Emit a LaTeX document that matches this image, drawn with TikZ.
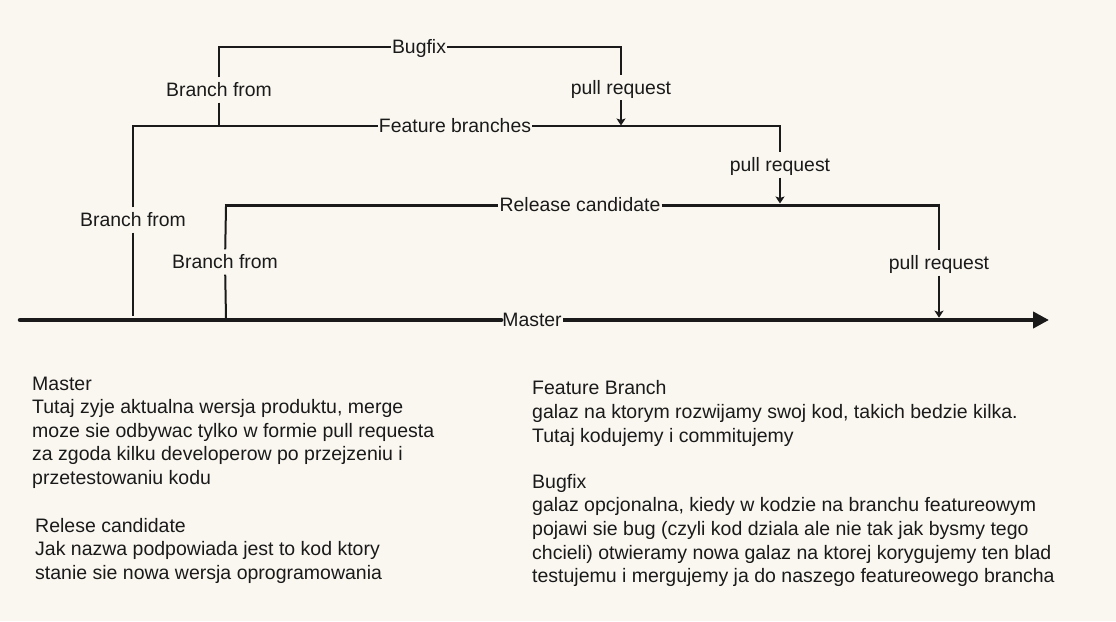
\documentclass[tikz,border=0pt]{standalone}
\usepackage{fontspec}
\setmainfont{Liberation Sans}
\usetikzlibrary{arrows.meta}
\definecolor{bg}{HTML}{FAF7F0}
\definecolor{ink}{HTML}{1A1A1A}
\begin{document}
\begin{tikzpicture}[x=1pt,y=-1pt,
  lbl/.style={font=\fontsize{19.4}{23.6}\selectfont, text=ink, inner xsep=1pt, inner ysep=3.5pt, text height=15.5pt, text depth=2.5pt},
  para/.style={font=\fontsize{19.5}{23.6}\selectfont, text=ink, inner sep=0pt, anchor=north west, align=left},
  thinline/.style={draw=ink, line width=1.3pt},
  midline/.style={draw=ink, line width=2pt},
  rcline/.style={draw=ink, line width=3pt},
  masterline/.style={draw=ink, line width=4.5pt},
  pr/.style={-{Stealth[length=7pt,width=9pt,inset=1.5pt]}},
]
\fill[bg] (0,0) rectangle (1116,621);
\useasboundingbox (0,0) rectangle (1116,621);

% labels
\node[lbl] (mlabel) at (532,320) {Master};
\node[lbl] (fblabel) at (455,126) {Feature branches};
\node[lbl] (rclabel) at (580,205) {Release candidate};
\node[lbl] (buglabel) at (419,47) {Bugfix};
\node[lbl] (bfbug) at (219,90) {Branch from};
\node[lbl] (bffeat) at (133,220) {Branch from};
\node[lbl] (bfrc) at (225,262) {Branch from};
\node[lbl] (prbug) at (621,87.5) {pull request};
\node[lbl] (prfeat) at (780,165) {pull request};
\node[lbl] (prrc) at (939,263) {pull request};

% corner coordinates
\coordinate (mL) at (20,320);
\coordinate (mR) at (1049,320);
\coordinate (fL) at (133,126);
\coordinate (fR) at (780,126);
\coordinate (fB) at (133,316);
\coordinate (bL) at (219,47);
\coordinate (bR) at (621,47);
\coordinate (bB) at (219,126);
\coordinate (bT) at (621,125.5);
\coordinate (rL) at (226,205);
\coordinate (rR) at (939,205);
\coordinate (rB) at (226,318);
\coordinate (rT) at (780,203.5);
\coordinate (mT) at (939,317.7);

% master
\draw[masterline, line cap=round] (mL) -- (mlabel);
\draw[masterline, -{Triangle[length=16pt,width=16pt]}] (mlabel) -- (mR);

% feature branches
\draw[thinline] (bffeat) -- (fB);
\draw[thinline] (bffeat) -- (fL) -- (fblabel);
\draw[thinline] (fblabel) -- (fR) -- (prfeat);
\draw[thinline, pr] (prfeat) -- (rT);

% bugfix
\draw[thinline] (bfbug) -- (bB);
\draw[thinline] (bfbug) -- (bL) -- (buglabel);
\draw[thinline] (buglabel) -- (bR) -- (prbug);
\draw[thinline, pr] (prbug) -- (bT);

% release candidate
\draw[midline] (bfrc) -- (rB);
\draw[midline] (bfrc) -- (226,206.5);
\draw[rcline] (224.5,205) -- (rclabel);
\draw[rcline] (rclabel) -- (940,205);
\draw[midline] (939,203.5) -- (prrc);
\draw[midline, pr] (prrc) -- (mT);

% descriptions
\node[para] (tmaster) at (32,376.5) {Master\\Tutaj zyje aktualna wersja produktu, merge\\moze sie odbywac tylko w formie pull requesta\\za zgoda kilku developerow po przejzeniu i\\przetestowaniu kodu};
\node[para] (trc) at (35,518) {Relese candidate\\Jak nazwa podpowiada jest to kod ktory\\stanie sie nowa wersja oprogramowania};
\node[para] (tfeat) at (532,380.5) {Feature Branch\\galaz na ktorym rozwijamy swoj kod, takich bedzie kilka.\\Tutaj kodujemy i commitujemy};
\node[para] (tbug) at (532,474) {Bugfix\\galaz opcjonalna, kiedy w kodzie na branchu featureowym\\pojawi sie bug (czyli kod dziala ale nie tak jak bysmy tego\\chcieli) otwieramy nowa galaz na ktorej korygujemy ten blad\\testujemu i mergujemy ja do naszego featureowego brancha};
\end{tikzpicture}
\end{document}
